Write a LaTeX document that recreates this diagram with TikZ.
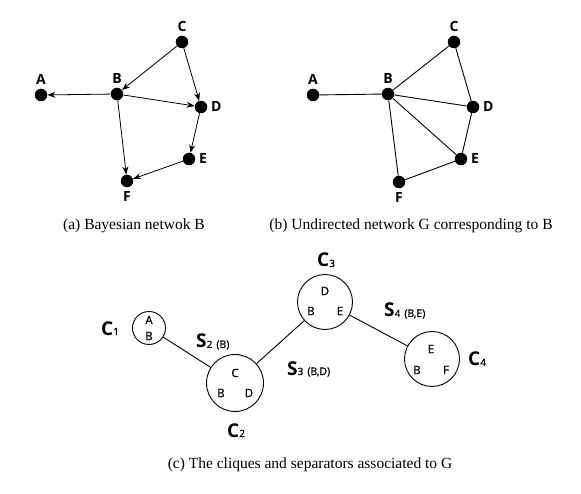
\documentclass[tikz,border=0pt]{standalone}
\usepackage{fontspec}
\setmainfont{Liberation Serif}
\setsansfont{Open Sans}
\newfontfamily\medsans[FakeBold=1]{Open Sans}
\usetikzlibrary{arrows.meta}
\newcommand{\vlab}[0]{\sffamily\bfseries\fontsize{14}{14}\selectfont}
\newcommand{\inlab}[0]{\medsans\fontsize{11.5}{11.5}\selectfont}
\newcommand{\bigname}[2]{{\sffamily\bfseries\fontsize{19}{19}\selectfont #1}{\medsans\fontsize{10}{10}\selectfont #2}}
\newcommand{\sepname}[3]{\bigname{#1}{#2}{\medsans\fontsize{10.5}{10.5}\selectfont\hspace{4pt}(#3)}}
\tikzset{
	vert/.style = {circle, fill = black, inner sep = 0pt, minimum size = 12.5pt},
	vlabel/.style = {font = \vlab, inner sep = 1pt, label distance = 2.5pt},
	arc/.style = {line width = 0.8pt, -{Stealth[length = 8pt, width = 6pt]}},
	edge/.style = {line width = 0.9pt},
	clique/.style = {circle, draw, line width = 0.9pt, inner sep = 0pt},
	caption/.style = {font = \fontsize{15.5}{15.5}\selectfont, anchor = base, inner sep = 0pt},
	cname/.style = {anchor = base west, inner sep = 0pt}
}

\begin{document}
\begin{tikzpicture}[x = 1pt, y = -1pt]
	\useasboundingbox (0,0) rectangle (581,494);
%The bayesian network
	\node[vert, label = {[vlabel]above:A}] (aA) at (41,95) {};
	\node[vert, label = {[vlabel]above:B}] (aB) at (117,94) {};
	\node[vert, label = {[vlabel]above:C}] (aC) at (182,42) {};
	\node[vert, label = {[vlabel]right:D}] (aD) at (201,107) {};
	\node[vert, label = {[vlabel]right:E}] (aE) at (189,159) {};
	\node[vert, label = {[vlabel]below:F}] (aF) at (127,181) {};
	\draw[arc] (aB) -- (aA);
	\draw[arc] (aC) -- (aB);
	\draw[arc] (aC) -- (aD);
	\draw[arc] (aB) -- (aD);
	\draw[arc] (aB) -- (aF);
	\draw[arc] (aD) -- (aE);
	\draw[arc] (aE) -- (aF);
	\node[caption] (capa) at (134,230) {(a) Bayesian netwok B};
%The undirected network
	\node[vert, label = {[vlabel]above:A}] (bA) at (313,95) {};
	\node[vert, label = {[vlabel]above:B}] (bB) at (388,94) {};
	\node[vert, label = {[vlabel]above:C}] (bC) at (454,42) {};
	\node[vert, label = {[vlabel]right:D}] (bD) at (473,107) {};
	\node[vert, label = {[vlabel]right:E}] (bE) at (461,159) {};
	\node[vert, label = {[vlabel]below:F}] (bF) at (399,182) {};
	\draw[edge] (bA) -- (bB);
	\draw[edge] (bB) -- (bC);
	\draw[edge] (bB) -- (bD);
	\draw[edge] (bB) -- (bE);
	\draw[edge] (bB) -- (bF);
	\draw[edge] (bC) -- (bD);
	\draw[edge] (bD) -- (bE);
	\draw[edge] (bE) -- (bF);
	\node[caption] (capb) at (411,230) {(b) Undirected network G corresponding to B};
%The cliques
	\node[clique, minimum size = 33pt] (c1) at (149,328) {};
	\node[clique, minimum size = 57pt] (c2) at (235,383) {};
	\node[clique, minimum size = 55pt] (c3) at (325,302) {};
	\node[clique, minimum size = 55pt] (c4) at (432,359) {};
	\node[font = \inlab] (c1a) at (149,320) {A};
	\node[font = \inlab] (c1b) at (149,336) {B};
	\node[font = \inlab] (c2c) at (235,373) {C};
	\node[font = \inlab] (c2b) at (221,393) {B};
	\node[font = \inlab] (c2d) at (249,393) {D};
	\node[font = \inlab] (c3d) at (325,291) {D};
	\node[font = \inlab] (c3b) at (311,311) {B};
	\node[font = \inlab] (c3e) at (340,311) {E};
	\node[font = \inlab] (c4e) at (431,349) {E};
	\node[font = \inlab] (c4b) at (417,370) {B};
	\node[font = \inlab] (c4f) at (446,370) {F};
	\draw[edge] (c1) -- (c2);
	\draw[edge] (c2) -- (c3);
	\draw[edge] (c3) -- (c4);
%Names and separators
	\node[cname] (n1) at (101,335) {\bigname{C}{1}};
	\node[cname] (n2) at (227,437) {\bigname{C}{2}};
	\node[cname] (n3) at (317,267) {\bigname{C}{3}};
	\node[cname] (n4) at (468,366) {\bigname{C}{4}};
	\node[cname] (s2) at (196,348) {\sepname{S}{2}{B}};
	\node[cname] (s3) at (287,375) {\sepname{S}{3}{B,D}};
	\node[cname] (s4) at (384,317) {\sepname{S}{4}{B,E}};
	\node[caption] (capc) at (310,468) {(c) The cliques and separators associated to G};
\end{tikzpicture}
\end{document}
